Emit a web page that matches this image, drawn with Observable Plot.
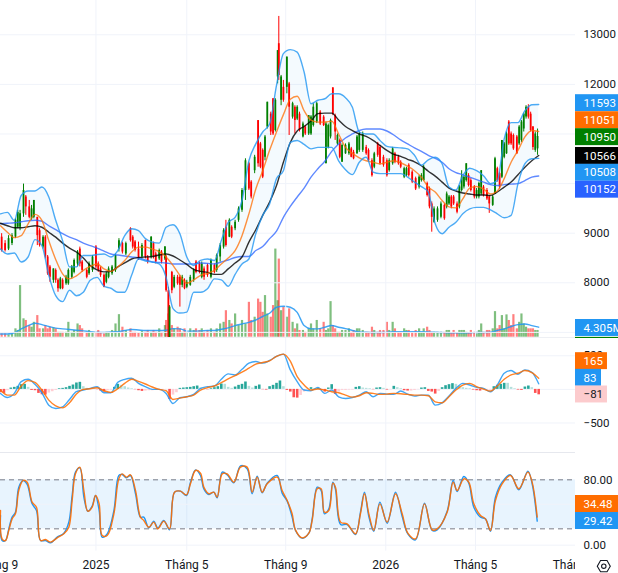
<!DOCTYPE html>
<html><head><meta charset="utf-8">
<script src="https://cdn.jsdelivr.net/npm/d3@7"></script>
<script src="https://cdn.jsdelivr.net/npm/@observablehq/plot@0.6"></script>
<style>html,body{margin:0;padding:0;background:#fff}#chart{position:relative;width:618px;height:573px;overflow:hidden}</style>
</head><body><div id="chart"></div>
<script>
// ---- time axis (trading sessions) ----
const tickSessions=[-3.5,83,162,248,335,413,499];
const tickLabels=["Tháng 9","2025","Tháng 5","Tháng 9","2026","Tháng 5","Tháng 9"];
const tickBold=[false,true,false,false,true,false,false];
// ---- candles ----
const candleSession=[1,4,7,10,13,15,17,20,22,25,27,29,32,34,37,39,41,43,46,48,
50,52,54,57,59,62,64,67,69,71,75,77,80,83,85,87,90,92,94,97,
100,103,106,109,113,115,117,120,123,126,128,131,133,135,138,140,143,144,146,147,
149,151,154,156,158,160,162,165,168,170,173,175,177,180,183,186,188,191,194,196,
199,201,204,207,210,213,216,218,221,224,226,228,230,232,235,237,239,241,242,244,
246,249,251,254,256,258,260,263,265,268,
270,272,275,278,281,283,285,287,289,291,293,295,297,300,303,305,307,310,312,315,
318,320,323,325,328,330,333,336,338,341,343,346,348,351,353,355,358,361,364,366,
368,371,373,375,377,380,383,386,388,390,392,394,397,399,401,403,405,407,409,412,
414,416,418,420,423,425,428,430,432,434,436,438,440,442,444,446,449,451,453,455,
457,459,461,463,465,467];
const candleUp=("RRGGGGGGRR"+"GGRRGRRRGR"+"RGRGGGGGRR"+"RGGRRRRGGG"+"GGRGRRRRGR"+"RGRRGRGRRG"+"RGRRGRGGGR"+"RGRRGRGGGR"+"GRGGGGRRGR"+"RRGGRRGGRG"+
"RGRGRGRGRG"+"GGGRRGGGRR"+"GRGGGRRGGG"+"RRRGRRRRGG"+"RRRGGRRRGG"+"GRRRGGGRGG"+"RRRGGGGRRR"+"GGGRRRGGRR"+"GGGRRRRGGG"+"GRRRGG").split("");
const bodyHigh=[8920,8790,8890,8950,9260,9420,9390,9860,9730,9530,
9490,9660,9320,9050,8920,8920,8520,8320,8280,8250,
8050,8080,8050,8110,8250,8320,8450,8620,8680,8420,
8250,8380,8520,8720,8380,8280,8150,8180,8280,8320,
8550,8850,8790,8790,9090,8920,8820,8680,8750,8850,
8520,8920,8790,8580,8650,8620,8720,8520,7840,7510,
8210,8110,8110,8110,8110,8050,8010,8110,8250,8420,
8380,8380,8280,8350,8450,8350,8550,8750,9050,9120,
9260,9120,9220,9490,9860,10460,10400,10030,10530,11270,
10800,10670,10940,11640,11400,11710,11680,12680,12820,12150,
11940,12550,12010,11610,11540,11540,11400,11200,11140,11370,
11340,11540,11610,11440,11340,11200,11170,11270,11930,11370,
10970,10870,10770,10770,10800,10700,10630,10940,11000,11000,
10730,10670,10460,10600,10800,10730,10530,10460,10460,10700,
10600,10530,10430,10300,10300,10370,10230,10100,10130,10160,
10330,10000,9890,9590,9490,9490,9590,9560,9790,9730,
9730,9730,9590,9930,10130,10130,10400,10160,10060,9930,
9860,10000,10260,9930,9860,9730,9730,10500,10300,10200,
10870,10800,11000,11240,11000,10970,10940,11140,11240,11400,
11540,11540,11400,11140,11000,10950];
const bodyLow=[8650,8650,8680,8790,8920,9120,9120,9390,9530,9320,
9290,9320,8950,8750,8720,8520,8180,8110,8050,8050,
7880,7880,7880,7980,7980,8110,8210,8380,8380,8250,
8110,8180,8250,8320,8250,8150,7910,8010,8110,8180,
8250,8680,8620,8580,8850,8720,8650,8480,8520,8520,
8420,8520,8520,8420,8480,8420,8480,7840,6900,6900,
7840,7910,7980,7950,7950,7880,7910,7950,8050,8210,
8210,8110,8110,8150,8110,8210,8250,8520,8720,8750,
8920,8920,9090,9260,9460,9860,9890,9730,10260,10400,
10330,10130,10530,11140,11040,11000,11070,12150,12180,11680,
11680,11940,11540,11340,11270,11300,11070,10940,11000,11000,
11000,11170,11240,11200,11170,10400,10730,10940,11400,11040,
10800,10530,10430,10600,10600,10530,10500,10600,10670,10670,
10600,10460,10160,10330,10570,10400,10370,10160,10260,10400,
10430,10400,10330,10130,10160,10160,10030,9890,9930,10060,
10060,9760,9530,9320,9220,9260,9320,9290,9530,9590,
9530,9590,9420,9530,9860,9930,10060,9960,9860,9730,
9730,9730,9790,9760,9690,9590,9560,9790,10060,9930,
10130,10530,10600,10800,10800,10700,10600,10800,10870,11100,
11340,11340,11070,10730,10670,10700];
const wickHigh=[8990,8850,8950,8990,9290,9460,9460,9990,9760,9660,
9560,9660,9320,9090,8950,8950,8550,8350,8280,8280,
8080,8110,8080,8150,8280,8350,8480,8650,8720,8450,
8280,8420,8550,8750,8420,8320,8180,8210,8320,8350,
8580,8890,8820,8820,9110,8950,8850,8820,8790,8860,
8550,8930,8820,8620,8680,8650,8730,8550,7910,7540,
8230,8150,8150,8150,8150,8080,8050,8150,8280,8450,
8420,8420,8320,8380,8480,8380,8580,8790,9090,9260,
9290,9150,9260,9530,9900,10500,10430,10060,10570,11270,
10830,10700,10970,11640,11440,11710,11710,12680,13370,12180,
12080,12550,12040,11640,11570,11570,11440,11240,11170,11370,
11370,11610,11640,11470,11370,11240,11200,11300,11930,11400,
11000,10900,10800,10800,10830,10730,10670,10970,11040,11040,
10770,10700,10500,10630,10830,10770,10570,10500,10500,10730,
10630,10570,10460,10330,10330,10400,10260,10130,10160,10200,
10370,10030,9930,9630,9530,9530,9630,9590,9830,9760,
9760,9760,9630,9960,10260,10160,10400,10200,10100,9960,
9900,10030,10260,9960,9900,9760,9760,10530,10330,10230,
10870,10830,11040,11270,11040,11000,10970,11170,11270,11420,
11570,11590,11440,11150,11040,11100];
const wickLow=[8620,8620,8650,8750,8890,9090,9050,9320,9360,9290,
9260,9290,8750,8720,8680,8480,8150,8010,7990,7990,
7810,7860,7860,7950,7950,8080,8180,8320,8320,8210,
8080,8150,8210,8280,8210,8110,7900,7980,8080,8150,
8210,8620,8580,8550,8820,8680,8620,8450,8480,8480,
8380,8480,8480,8380,8450,8380,8450,7810,6900,6900,
7780,7880,7950,7510,7900,7860,7880,7930,8010,8180,
8180,8080,8050,8110,8080,8180,8210,8420,8680,8720,
8910,8890,9050,9220,9420,9660,9860,9690,10200,10330,
10300,10100,10460,11100,10970,10970,11040,12010,12080,11570,
11640,11810,10970,11300,11000,11270,11040,10920,10970,10970,
10970,11140,11210,11170,11150,10400,10700,10900,11370,10870,
10770,10500,10430,10590,10570,10520,10480,10590,10630,10630,
10570,10430,10130,10300,10530,10370,10330,10130,10230,10370,
10400,10370,10300,10100,10140,10130,10000,9860,9890,10030,
10050,9730,9490,9020,9200,9220,9290,9260,9490,9560,
9490,9560,9390,9490,9830,9890,10030,9930,9830,9690,
9690,9690,9760,9730,9660,9400,9540,9780,10030,9890,
10100,10500,10590,10770,10770,10670,10590,10770,10830,11040,
11300,11300,11040,10670,10630,10570];
// volume in millions, one per candle
const volumeM=[1.4,1.4,1.0,1.4,3.6,2.9,22.2,7.9,7.2,5.0,
4.3,6.4,9.3,3.6,3.6,5.0,3.6,4.3,4.0,3.6,
2.1,2.1,2.1,2.1,6.4,2.1,2.9,5.7,5.0,3.6,
1.7,2.9,2.1,2.1,2.9,1.7,1.4,2.1,1.7,2.9,
5.7,9.7,4.3,2.9,3.6,2.1,2.1,1.7,2.6,2.1,
2.9,2.1,2.9,2.1,3.6,2.1,5.0,7.2,10,1.4,
5,3.6,4.3,3.6,2.1,3.6,2.1,3.6,2.9,3.6,
2.9,3.6,2.1,2.9,3.6,2.1,3.6,5.7,6.4,11.4,
7.2,5.7,10,5,7.2,5.7,15,7.2,8.6,16.4,
15,10.7,17.9,10,8.6,13.6,37.9,15.7,33.6,11.4,
12.9,8.6,12.2,6.4,3.6,5.7,2.9,2.9,2.1,3.6,
5.7,3.6,7.2,3.6,6.4,2.9,3.6,15.3,5,3.6,
2.1,2.1,2.9,2.9,3.6,2.1,2.9,3.6,3.6,2.9,
2.1,2.1,4.3,2.9,2.1,2.9,2.9,6.4,2.9,6.4,
3.6,2.1,2.1,3.6,2.9,2.9,2.1,2.9,3.6,2.1,
3.6,4.3,2.9,2.1,2.1,2.1,2.1,2.1,2.9,2.9,
1.7,2.9,1.7,2.9,2.9,2.9,2.1,1.7,2.9,2.1,
1.4,2.9,5.7,2.1,2.9,2.9,3.6,11,3.6,5,
9.3,3.6,9.6,7.2,5,9.7,3.6,6.4,10,5.7,
4.3,3.6,3.6,3.6,2.9,2.9];
// ---- overlay lines, one reading every 6 sessions ----
const bbUpper=[9390,9420,9260,9760,9850,9850,9930,9730,9260,8850,8320,8320,8550,8550,8570,8580,8520,8650,8950,9090,9050,8890,8820,8800,9120,9170,8990,8520,8350,8450,8480,8450,8850,9220,9320,9660,10460,10800,11040,11200,11980,12620,12700,12650,
12250,11610,11680,11710,11810,11810,11730,11540,11040,11000,11000,10870,10750,10730,10720,10700,10570,10370,10480,10530,10400,9930,9870,10160,10310,10260,10160,10000,10060,10900,11230,11230,11470,11590,11593];
const bbLower=[8680,8580,8600,8420,8520,8870,8750,8150,7740,7620,7850,7740,7810,8050,8110,7930,7890,7810,7810,8150,8480,8440,8420,8380,8110,7480,7390,7410,7810,7810,7880,8080,8060,7930,8170,8380,8480,8990,9360,9590,10100,10260,10830,10870,
10790,10700,10730,10730,10730,10460,10280,10180,10430,10530,10230,10200,10200,10200,10200,10130,10030,9940,9830,9190,8990,9120,9220,9390,9490,9520,9520,9470,9390,9310,9360,10000,10400,10500,10508];
const emaOrange=[9150,9020,8910,8950,9190,9380,9260,8850,8470,8180,8080,8140,8250,8330,8380,8280,8230,8320,8450,8620,8720,8720,8680,8630,8520,8350,8150,7990,8060,8150,8190,8250,8380,8500,8650,8950,9390,9890,10260,10670,11040,11390,11700,11760,
11470,11280,11240,11240,11260,11000,10730,10610,10520,10460,10430,10400,10430,10460,10420,10350,10260,10130,9930,9830,9660,9530,9510,9690,9910,9940,9890,9790,9850,10100,10430,10670,10940,11070,11051];
const smaBlack=[9200,9150,9110,9110,9130,9150,9120,9020,8920,8800,8700,8620,8500,8350,8260,8220,8230,8320,8400,8480,8510,8520,8530,8560,8580,8540,8460,8370,8270,8230,8210,8170,8170,8280,8400,8520,8820,9070,9360,9630,9960,10430,10830,11060,
11150,11260,11410,11420,11420,11280,11150,11070,11000,10950,10870,10770,10670,10590,10550,10490,10440,10360,10250,10150,10030,9910,9850,9810,9790,9770,9770,9760,9830,9930,10030,10180,10330,10460,10566];
const smaBlue=[9190,9200,9210,9230,9250,9260,9240,9150,9070,8990,8920,8870,8800,8750,8700,8640,8580,8560,8540,8520,8500,8460,8420,8410,8400,8380,8380,8380,8380,8400,8390,8380,8420,8460,8510,8530,8530,8650,8730,8890,9040,9320,9540,9730,
9910,10130,10300,10450,10650,10800,10920,11000,11070,11100,11100,11100,11060,10980,10880,10800,10720,10650,10570,10510,10430,10300,10220,10180,10130,10080,10030,9980,9960,9980,9990,10000,10060,10130,10152];
const volMA=[1.4,1.4,1.9,3.6,5.0,6.0,5.4,4.6,3.9,3.6,3.3,3.0,2.7,2.4,2.1,2.0,2.3,2.4,2.9,3.3,3.1,2.9,2.9,2.9,3.0,3.7,3.6,2.6,2.6,2.7,2.9,2.9,3.4,4.0,5.0,5.7,6.4,7.4,8.9,10.3,12.9,13.3,12.9,10.7,
5.0,3.6,3.6,4.3,5.0,4.3,3.7,2.9,2.3,2.1,2.0,2.0,2.1,2.4,2.4,2.4,2.4,2.4,2.3,2.1,2.0,1.9,1.9,1.9,1.9,2.0,2.0,2.1,2.9,3.6,4.6,5.4,5.7,5.0,4.305];
// ---- MACD ----
const macdFast=[-60,-120,-60,115,150,75,-50,-235,-285,-260,-150,-35,-10,15,40,-50,-50,105,150,165,90,40,0,0,-60,-210,-125,-110,-75,15,40,50,150,230,215,300,390,415,390,430,490,525,290,115,
-10,-20,30,-60,-10,-110,-135,-120,-85,-35,-110,-60,-70,-75,-25,-70,-100,-85,-85,-235,-200,-100,15,90,65,30,15,-35,65,240,280,225,290,255,83];
const macdSignal=[-10,-85,-85,50,130,105,-10,-160,-245,-275,-200,-70,0,10,25,-20,-45,10,90,150,120,80,35,0,-20,-150,-130,-110,-85,-10,25,50,100,155,205,255,315,375,400,425,490,525,420,190,
65,-10,5,-10,-35,-50,-85,-115,-95,-50,-60,-75,-70,-60,-65,-75,-85,-85,-95,-185,-200,-110,-10,65,90,40,5,-25,50,150,215,240,280,250,165];
// histogram, one reading every 3 sessions
const macdHist=[-50,-60,-20,20,30,45,70,75,30,-15,-20,-60,-80,-85,-55,-35,-15,10,15,25,45,65,95,105,40,15,10,5,-5,-25,-40,-20,-10,30,75,60,40,20,10,-5,-20,-30,-25,-20,-20,-15,-10,-10,-5,-150,-85,-50,15,20,25,30,40,50,20,5,-5,10,25,40,80,75,30,15,35,60,75,110,45,20,45,65,-5,-10,40,60,90,125,40,-15,-40,-125,-130,-90,-40,
-5,25,10,15,-10,-40,20,70,-75,-40,-15,-15,-10,-10,30,40,20,15,10,-5,20,25,15,-10,-5,45,25,10,-20,-25,-25,-15,-5,20,25,-30,-40,-70,-30,25,55,70,85,75,50,25,15,10,-10,-20,-25,-15,-15,-10,40,60,75,90,90,30,10,-10,-15,35,50,25,-60,-81];
// ---- Stochastic, read at the turning points ----
const stochSession=[0,1.4,4.3,7.2,10.1,13,15.9,19.7,23.2,27.5,31.3,34.8,39.1,43.5,49.3,55.1,59.4,62.3,65.2,69,72.5,75.9,79.7,82.6,85.8,88.4,92.8,98.6,102.9,105.8,
109.6,113,117.4,121.7,124.6,129,133.3,136.8,142,147,151.3,156.5,161.7,165.2,169.6,173.9,176.8,181.2,185.5,188.4,192.8,197.1,202.9,208.7,214.5,218.8,223.2,227.5,231.9,240.6,
244.9,249.3,253.6,256.5,262.3,268.1,271,275.4,278.8,281.7,285.5,289,291.3,295.7,301.4,308.7,313,316.5,320.3,324.6,329.9,336.2,343.5,349.3,354.2,360.9,368.7,375.4,379.7,388.4,
393.6,397.1,402.9,407.2,411.6,417.4,421.7,426.1,430.4,436.2,443.5,450.7,458.6,462.3,466.7];
const stochSlow=[42.4,7.8,5.7,18,32.2,38.4,66.9,79.2,77.1,52.7,46.5,5.7,6.9,3.7,9,13.9,22,54.7,87.3,95.5,66.9,41.6,46.5,60.8,50.6,11.8,11.8,38.4,81.2,87.3,
83.3,86.1,66.9,34.3,30.2,22,28.2,20,29.4,20,64.9,66.1,61.6,75.1,91.4,88.2,71,62.9,64.9,58.8,87.3,87.3,77.1,95.5,95.5,64.9,83.3,64.9,75.1,83.3,
66.9,54.7,38.4,18.8,9,14.7,30.2,69,69,40.4,42.4,75.9,71,28.2,26.1,13.9,38.4,62.9,38.4,18,50.6,28.2,62.9,38.4,14.7,7.8,50.6,18.8,20,40.4,
77.1,66.9,81.2,77.1,50.6,36.3,32.2,18,54.7,75.1,85.3,69,89.4,77.1,34.48];
const stochFast=[36.3,5.7,5.7,20,34.3,40.4,71,79.2,74.3,50.6,42.4,5.7,5.7,2.9,9.8,14.7,28.2,60.8,89.4,94.7,58.8,41.6,47.8,60.8,42.4,9.8,13.9,42.4,85.3,86.5,
82.4,85.3,62.9,34.3,34.3,21.2,29.4,21.2,30.2,18.8,64.9,66.1,60.8,77.1,92.2,85.3,69,62,64.9,58,89.4,86.1,76.3,97.1,93.5,62.9,84.5,64.1,75.9,85.3,
63.7,53.9,34.3,18,8.6,14.7,32.2,71,66.9,38.4,44.5,77.1,68.2,25.3,25.3,13.1,40.4,64.9,35.1,17.1,52.7,26.9,64.9,35.1,13.9,6.5,51.4,18,18.8,41.6,
79.2,65.7,84.1,75.9,46.5,34.3,32.2,17.1,58.8,77.1,86.1,67.8,90.6,75.1,29.42];
// ---- axis ticks ----
const priceTicks=[13000,12000,9000,8000];
const priceGrid=[13000,12000,11000,10000,9000,8000,7000];
const macdTicks=[500,-500];
const macdGrid=[500,0,-500];
const stochTicks=[80,0];
const stochGrid=[50,0];
const stochBand=[20,80];
// ---- last value labels: text, centre on the pane's scale, colour ----
const priceTagText=["11593","11051","10950","10566","10508","10152","4.305M"];
const priceTagAt=[11621,11278,10936,10557,10218,9877,7089];
const priceTagFill=["#2196f3","#ff6d00","#007f00","#000000","#2196f3","#2962ff","#2196f3"];
const macdTagText=["165","83","−81"];
const macdTagAt=[420,172,-76];
const macdTagEnd=[527.8,522.6,527.8];
const macdTagFill=["#ff6d00","#2196f3","#fccbcd"];
const macdTagInk=["#fff","#fff","#131722"];
const stochTagText=["34.48","29.42"];
const stochTagAt=[50.4,29.6];
const stochTagFill=["#ff6d00","#2196f3"];

for(const [n,a] of Object.entries({candleUp,bodyHigh,bodyLow,wickHigh,wickLow,volumeM}))
  if(a.length!==candleSession.length) throw new Error(n+" "+a.length+" vs "+candleSession.length);
for(const [n,a] of Object.entries({bbUpper,bbLower,emaOrange,smaBlack,smaBlue,volMA,macdFast,macdSignal}))
  if(a.length!==79) throw new Error(n+" "+a.length);
if(macdHist.length!==157) throw new Error("hist "+macdHist.length);
for(const [n,a] of Object.entries({stochSlow,stochFast}))
  if(a.length!==stochSession.length) throw new Error(n+" "+a.length+" vs "+stochSession.length);

const GREEN="#007f00",RED="#ff0000",GRID="#f0f3fa",SEP="#e0e3eb",INK="#131722",FONT="Roboto, sans-serif",CURVE="monotone-x";
const candles=candleSession.map((s,i)=>({s,up:candleUp[i]==="G",top:bodyHigh[i],bot:bodyLow[i],hi:wickHigh[i],lo:wickLow[i],vol:volumeM[i]}));
const lines=d3.range(79).map(k=>({s:k*6,bbUpper:bbUpper[k],bbLower:bbLower[k],ema:emaOrange[k],sma:smaBlack[k],smaB:smaBlue[k],volMA:volMA[k],fast:macdFast[k],slow:macdSignal[k]}));
const stoch=stochSession.map((s,i)=>({s,f:stochFast[i],l:stochSlow[i]}));
const hist=macdHist.map((v,i)=>({s:i*3,v,c:v>=0?(v>(macdHist[i-1]??0)?"#26a69a":"#b2dfdb"):(v<(macdHist[i-1]??0)?"#ff5252":"#ffcdd2")}));

const xDom=[0,537.39], AXL=507, END=537.39, PANE=500;
const gridSessions=tickSessions.slice(1,6);
const vgrid=(y1,y2)=>Plot.ruleX(gridSessions,{y1,y2,stroke:GRID,strokeWidth:1});
function pane(top,height,yDom,marks){
  return Plot.plot({width:618,height,marginLeft:0,marginRight:0,marginTop:0,marginBottom:0,
    x:{domain:xDom,range:[0,618],axis:null},y:{domain:yDom,range:[height,0],axis:null},
    color:{type:"identity"},
    style:{position:"absolute",left:"0",top:top+"px",background:"transparent",overflow:"hidden"},marks});
}
const hgrid=(vals)=>Plot.ruleY(vals,{x1:0,x2:PANE,stroke:GRID,strokeWidth:1});
const ticksText=(vals,fmt)=>Plot.text(vals,{x:AXL,y:d=>d,text:fmt,textAnchor:"start",fill:INK,fontSize:11.5,fontFamily:FONT});
const tags=(texts,at,fills,half,ends,inks)=>{
  const rows=texts.map((t,i)=>({t,at:at[i],f:fills[i],e:ends?ends[i]:END,ink:inks?inks[i]:"#fff"}));
  return [Plot.rect(rows,{x1:PANE,x2:"e",y1:d=>d.at-half,y2:d=>d.at+half,fill:"f"}),
    Plot.text(rows,{x:AXL,y:"at",text:"t",fill:"ink",textAnchor:"start",fontSize:11.5,fontFamily:FONT})];
};

const root=document.getElementById("chart");
const MAIN_DOM=[6877,13691];
// volume pane behind the candles
root.append(pane(0,338,[-0.56,144.8],[
  Plot.ruleX(candles,{x:"s",y1:0,y2:"vol",stroke:d=>d.up?GREEN:RED,strokeOpacity:0.5,strokeWidth:2.2}),
  Plot.line(lines,{x:"s",y:"volMA",stroke:"#2196f3",strokeWidth:1.4,strokeOpacity:.85,curve:CURVE})
]));
// price pane
root.append(pane(0,338,MAIN_DOM,[
  vgrid(6890,13691),hgrid(priceGrid),
  Plot.ruleY([6888],{x1:0,x2:PANE,stroke:SEP,strokeWidth:1}),
  Plot.areaY(lines,{x:"s",y1:"bbLower",y2:"bbUpper",fill:"#2196f3",fillOpacity:.05,curve:CURVE}),
  Plot.ruleX(candles,{x:"s",y1:"lo",y2:"hi",stroke:d=>d.up?GREEN:RED,strokeWidth:1}),
  Plot.ruleX(candles,{x:"s",y1:"bot",y2:"top",stroke:d=>d.up?GREEN:RED,strokeWidth:1.8}),
  Plot.line(lines,{x:"s",y:"smaB",stroke:"#2962ff",strokeWidth:1.4,strokeOpacity:.75,curve:CURVE}),
  Plot.line(lines,{x:"s",y:"sma",stroke:"#000",strokeWidth:1.4,strokeOpacity:.8,curve:CURVE}),
  Plot.line(lines,{x:"s",y:"ema",stroke:"#ff6d00",strokeWidth:1.4,strokeOpacity:.75,curve:CURVE}),
  Plot.line(lines,{x:"s",y:"bbUpper",stroke:"#2196f3",strokeWidth:1.4,strokeOpacity:.8,curve:CURVE}),
  Plot.line(lines,{x:"s",y:"bbLower",stroke:"#2196f3",strokeWidth:1.4,strokeOpacity:.8,curve:CURVE}),
  ticksText(priceTicks,d=>String(d)),
  Plot.rect([6900],{x1:PANE,x2:END,y1:6877,y2:d=>d,fill:GREEN}),
  ...tags(priceTagText,priceTagAt,priceTagFill,171)
]));
// MACD pane
const MACD_DOM=[-954,757];
root.append(pane(338,115,MACD_DOM,[
  vgrid(-945,757),hgrid(macdGrid),
  Plot.ruleY([-942],{x1:0,x2:PANE,stroke:SEP,strokeWidth:1}),
  Plot.ruleX(hist,{x:"s",y1:0,y2:"v",stroke:"c",strokeWidth:2.6}),
  Plot.line(lines,{x:"s",y:"fast",stroke:"#2196f3",strokeWidth:1.4,strokeOpacity:.85,curve:CURVE}),
  Plot.line(lines,{x:"s",y:"slow",stroke:"#ff6d00",strokeWidth:1.4,strokeOpacity:.85,curve:CURVE}),
  ticksText(macdTicks,d=>d<0?"−"+(-d):String(d)),
  ...tags(macdTagText,macdTagAt,macdTagFill,126,macdTagEnd,macdTagInk)
]));
// Stochastic pane with the time axis
const gearHex={draw(c,size){const r=Math.sqrt(size/Math.PI);for(let i=0;i<6;i++){const a=Math.PI/3*i;const px=r*Math.cos(a),py=r*Math.sin(a);i?c.lineTo(px,py):c.moveTo(px,py);}c.closePath();}};
const tickRows=tickSessions.map((s,i)=>({s,t:tickLabels[i],b:tickBold[i]}));
root.append(pane(453,120,[-34.65,112.2],[
  vgrid(-7.3,112),
  Plot.rect([stochBand],{x1:0,x2:PANE,y1:d=>d[0],y2:d=>d[1],fill:"#2196f3",fillOpacity:.1}),
  hgrid(stochGrid),
  Plot.ruleY(stochBand,{x1:0,x2:PANE,stroke:"#787b86",strokeWidth:1,strokeDasharray:"5,4"}),
  Plot.line(stoch,{x:"s",y:"f",stroke:"#2196f3",strokeWidth:1.4,curve:"catmull-rom"}),
  Plot.line(stoch,{x:"s",y:"l",stroke:"#ff6d00",strokeWidth:1.4,strokeOpacity:.9,curve:"catmull-rom"}),
  Plot.text(tickRows,{x:"s",y:-24.6,text:"t",fill:INK,fontSize:12,fontFamily:FONT,fontWeight:d=>d.b?"700":"400"}),
  Plot.rect([0],{x1:PANE,x2:END,y1:-34.65,y2:112,fill:"#fff"}),
  ticksText(stochTicks,d=>d.toFixed(2)),
  ...tags(stochTagText,stochTagAt,stochTagFill,10.4),
  Plot.dot([0],{x:524.6,y:-25.7,r:6.5,symbol:gearHex,stroke:INK,strokeWidth:1.1,fill:"none"}),
  Plot.dot([0],{x:524.6,y:-25.7,r:2.2,stroke:INK,strokeWidth:1.1,fill:"none"})
]));
</script></body></html>
